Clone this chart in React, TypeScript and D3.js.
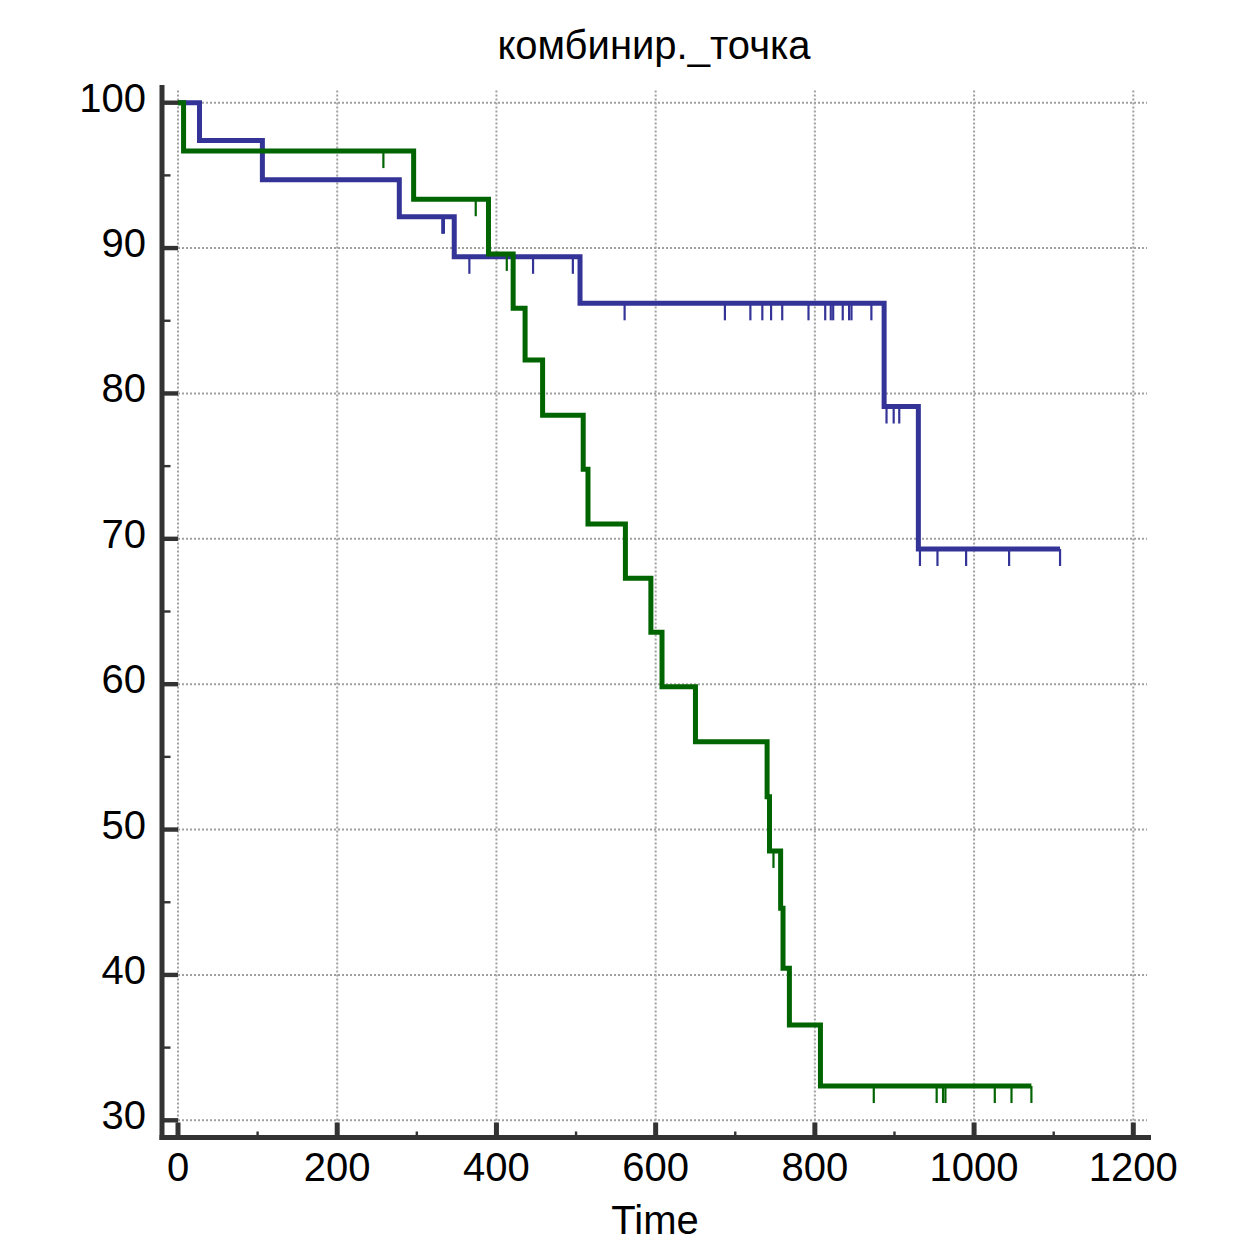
import React from 'react';
import * as d3 from 'd3';

// blue group: step times / survival %
const blueTimes = [0, 27, 106, 278, 347, 505, 887, 930];
const blueSurv = [100, 97.4, 94.7, 92.15, 89.4, 86.2, 79.1, 69.3];
const blueEnd = 1108;
const blueCensored = [332, 334, 366, 446, 496, 561, 687, 719, 734, 745, 759, 792, 813, 820, 823, 835, 843, 846, 871,
  890, 899, 906, 932, 954, 990, 1044, 1108];

// green group
const greenTimes = [0, 7, 296, 390, 421, 436, 458, 509, 515, 562, 594, 608, 650, 740, 743, 757, 760, 768, 807];
const greenSurv = [100, 96.67, 93.36, 89.6, 85.86, 82.3, 78.5, 74.78, 71.02, 67.28, 63.57, 59.83, 56.04, 52.26,
  48.53, 44.58, 40.46, 36.56, 32.36];
const greenEnd = 1072;
const greenCensored = [258, 374, 413, 748, 874, 953, 961, 964, 1026, 1047, 1072];

const xTicks = [0, 200, 400, 600, 800, 1000, 1200];
const xMinor = [100, 300, 500, 700, 900, 1100];
const yTicks = [30, 40, 50, 60, 70, 80, 90, 100];
const yMinor = [35, 45, 55, 65, 75, 85, 95];

const title = 'комбинир._точка';
const xLabel = 'Time';

const W = 1245;
const H = 1241;

const x = d3.scaleLinear().domain([0, 1200]).range([178, 1133.3]);
const y = d3.scaleLinear().domain([30, 100]).range([1120.3, 102.7]);

const axisLeft = 162;
const axisBottom = 1137.5;
const axisTop = 85;
const axisRight = 1151;

const font = "'Liberation Sans', Arial, sans-serif";

type Pt = [number, number];

function stepPoints(times: number[], surv: number[], end: number): Pt[] {
  const pts: Pt[] = times.map((t, i) => [t, surv[i]]);
  pts.push([end, surv[surv.length - 1]]);
  return pts;
}

function survAt(times: number[], surv: number[], t: number) {
  let s = surv[0];
  times.forEach((tt, i) => {
    if (tt <= t) s = surv[i];
  });
  return s;
}

const line = d3
  .line<Pt>()
  .x((d) => x(d[0]))
  .y((d) => y(d[1]))
  .curve(d3.curveStepAfter);

const Curve = ({ times, surv, end, censored, color }: any) => {
  const d = line(stepPoints(times, surv, end)) || '';
  return (
    <g>
      {censored.map((t: number, i: number) => {
        const s = survAt(times, surv, t);
        return (
          <line key={i} x1={x(t)} x2={x(t)} y1={y(s)} y2={y(s) + 17} stroke={color} strokeWidth={2.2} />
        );
      })}
      <path d={d} fill="none" stroke={color} strokeWidth={5} strokeLinejoin="miter" />
    </g>
  );
};

export default function App() {
  return (
    <svg width={W} height={H} style={{ position: 'absolute', left: 0, top: 0, background: '#fff' }}>
      <rect width={W} height={H} fill="#fff" />

      {/* grid */}
      <g stroke="#a0a0a0" strokeWidth={2} strokeDasharray="2,2">
        {xTicks.map((t) => (
          <line key={'gx' + t} x1={x(t)} x2={x(t)} y1={90.5} y2={axisBottom} />
        ))}
        {yTicks.map((t) => (
          <line key={'gy' + t} x1={axisLeft} x2={1147} y1={y(t)} y2={y(t)} />
        ))}
      </g>

      <Curve times={blueTimes} surv={blueSurv} end={blueEnd} censored={blueCensored} color="#343498" />
      <Curve times={greenTimes} surv={greenSurv} end={greenEnd} censored={greenCensored} color="#006400" />

      {/* axes */}
      <g fill="#333">
        <rect x={axisLeft - 2.5} y={axisTop} width={5} height={axisBottom - axisTop + 2.5} />
        <rect x={axisLeft - 2.5} y={axisBottom - 2.5} width={axisRight - axisLeft + 2.5} height={5} />
        {xTicks.map((t) => (
          <rect key={'tx' + t} x={x(t) - 2.5} y={axisBottom - 15} width={5} height={15} />
        ))}
        {xMinor.map((t) => (
          <rect key={'mx' + t} x={x(t) - 1.2} y={axisBottom - 6} width={2.4} height={6} />
        ))}
        {yTicks.map((t) => (
          <rect key={'ty' + t} x={axisLeft} y={y(t) - 2.2} width={16} height={4.4} />
        ))}
        {yMinor.map((t) => (
          <rect key={'my' + t} x={axisLeft} y={y(t) - 1.2} width={8.5} height={2.4} />
        ))}
      </g>

      {/* tick labels */}
      <g fontFamily={font} fontSize={40} fill="#000">
        {xTicks.map((t) => (
          <text key={'lx' + t} x={x(t)} y={1180.5} textAnchor="middle">
            {t}
          </text>
        ))}
        {yTicks.map((t) => (
          <text key={'ly' + t} x={146} y={y(t) + 9} textAnchor="end">
            {t}
          </text>
        ))}
      </g>

      <text x={654} y={59} textAnchor="middle" fontFamily={font} fontSize={40} fill="#000">
        {title}
      </text>
      <text x={655} y={1234} textAnchor="middle" fontFamily={font} fontSize={40} fill="#000">
        {xLabel}
      </text>
    </svg>
  );
}
